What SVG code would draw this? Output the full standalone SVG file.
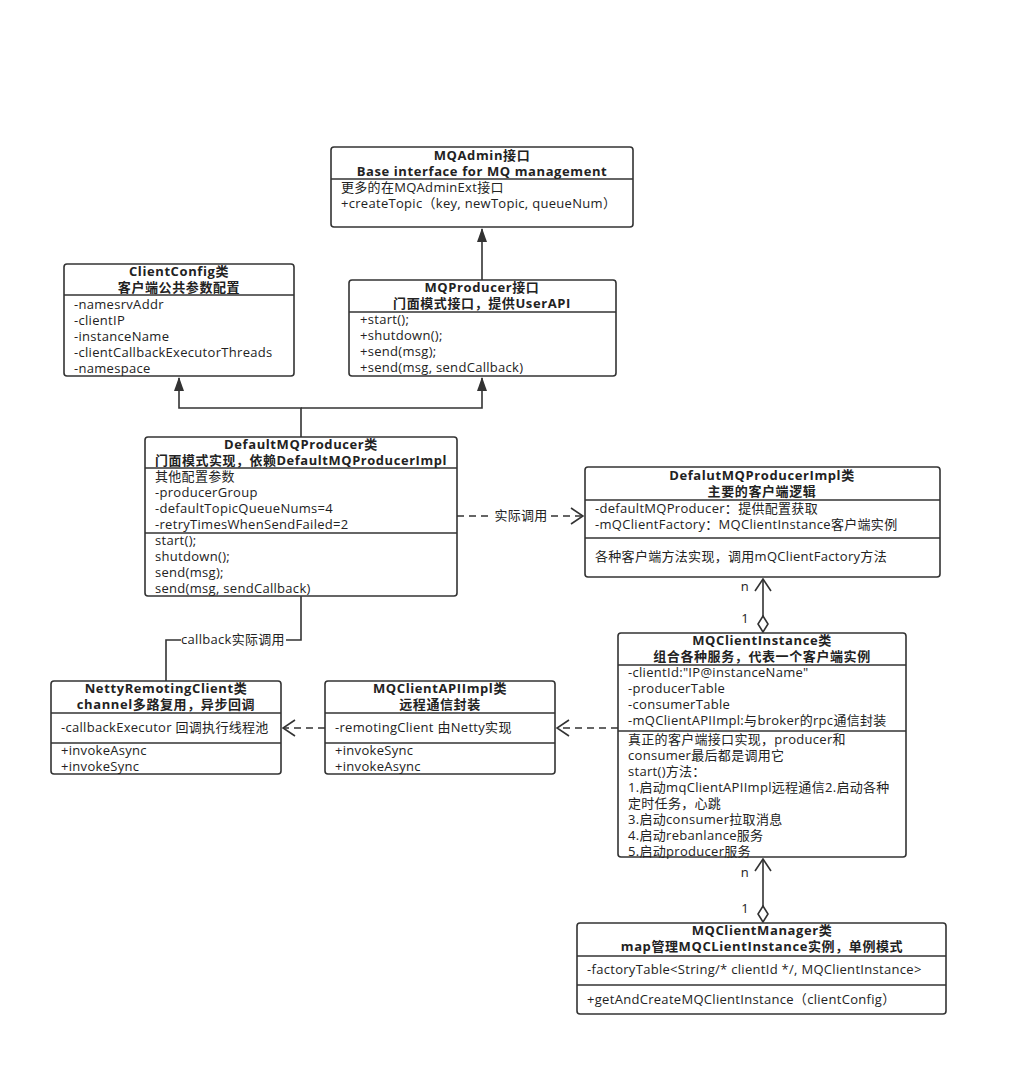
<svg xmlns="http://www.w3.org/2000/svg" width="1010" height="1077" viewBox="0 0 1010 1077">
<style>
.box{fill:#fff;stroke:#333;stroke-width:1.6}
.div{stroke:#333;stroke-width:1.6}
text{font-family:"Open Sans","Noto Sans CJK SC",sans-serif;font-size:13px;letter-spacing:0.3px;fill:#222}
.t{font-weight:bold;text-anchor:middle;letter-spacing:0.6px}
.ln{fill:none;stroke:#333;stroke-width:1.6}
.dash{fill:none;stroke:#333;stroke-width:1.6;stroke-dasharray:7,5}
.lbl{font-size:13px}
</style>
<defs>
<marker id="tri" markerWidth="14" markerHeight="10" refX="13" refY="5" orient="auto" markerUnits="userSpaceOnUse" viewBox="0 0 14 10">
<path d="M0,0 L14,5 L0,10 Z" fill="#333"/>
</marker>
<marker id="open" markerWidth="14" markerHeight="18" refX="13" refY="9" orient="auto" markerUnits="userSpaceOnUse" viewBox="0 0 14 18">
<path d="M1,1 L13,9 L1,17" fill="none" stroke="#333" stroke-width="1.6"/>
</marker>
<marker id="dia" markerWidth="18" markerHeight="12" refX="0" refY="5" orient="auto" markerUnits="userSpaceOnUse" viewBox="-1 -1 18 12">
<path d="M0,5 L8,0 L16,5 L8,10 Z" fill="#fff" stroke="#333" stroke-width="1.6"/>
</marker>
</defs>
<rect width="1010" height="1077" fill="#fff"/>

<g id="connectors">
<path class="ln" d="M482,280 V229" marker-end="url(#tri)"/>
<path class="ln" d="M301,437 V408 H179 V378" marker-end="url(#tri)"/>
<path class="ln" d="M301,408 H482 V378" marker-end="url(#tri)"/>
<path class="dash" d="M457,516 H490"/>
<path class="dash" d="M551,516 H583" marker-end="url(#open)"/>
<text class="lbl" x="521" y="520" text-anchor="middle">实际调用</text>
<path class="ln" d="M763,632 V579" marker-start="url(#dia)" marker-end="url(#open)"/>
<text class="lbl" x="745" y="591" text-anchor="middle">n</text>
<text class="lbl" x="745" y="623" text-anchor="middle">1</text>
<path class="ln" d="M763,922 V859" marker-start="url(#dia)" marker-end="url(#open)"/>
<text class="lbl" x="745" y="877" text-anchor="middle">n</text>
<text class="lbl" x="745" y="913" text-anchor="middle">1</text>
<path class="dash" d="M618,728 H557" marker-end="url(#open)"/>
<path class="dash" d="M325,728 H283" marker-end="url(#open)"/>
<path class="ln" d="M301,596 V640 H286"/>
<path class="ln" d="M181,640 H166 V681"/>
<text class="lbl" x="233" y="644" text-anchor="middle">callback实际调用</text>
</g>

<g id="MQAdmin">
<rect class="box" x="331" y="147" width="302" height="80" rx="3"/>
<line class="div" x1="331" y1="179" x2="633" y2="179"/>
<text class="t" x="482" y="160">MQAdmin接口</text>
<text class="t" x="482" y="176">Base interface for MQ management</text>
<text x="341" y="192">更多的在MQAdminExt接口</text>
<text x="341" y="208">+createTopic（key, newTopic, queueNum）</text>
</g>

<g id="ClientConfig">
<rect class="box" x="64" y="264" width="230" height="112" rx="3"/>
<line class="div" x1="64" y1="295" x2="294" y2="295"/>
<text class="t" x="179" y="276">ClientConfig类</text>
<text class="t" x="179" y="292">客户端公共参数配置</text>
<text x="74" y="309">-namesrvAddr</text>
<text x="74" y="325">-clientIP</text>
<text x="74" y="341">-instanceName</text>
<text x="74" y="357">-clientCallbackExecutorThreads</text>
<text x="74" y="373">-namespace</text>
</g>

<g id="MQProducer">
<rect class="box" x="349" y="280" width="267" height="96" rx="3"/>
<line class="div" x1="349" y1="312" x2="616" y2="312"/>
<text class="t" x="482" y="292">MQProducer接口</text>
<text class="t" x="482" y="308">门面模式接口，提供UserAPI</text>
<text x="360" y="324">+start();</text>
<text x="360" y="340">+shutdown();</text>
<text x="360" y="356">+send(msg);</text>
<text x="360" y="372">+send(msg, sendCallback)</text>
</g>

<g id="DefaultMQProducer">
<rect class="box" x="145" y="437" width="312" height="159" rx="3"/>
<line class="div" x1="145" y1="468" x2="457" y2="468"/>
<line class="div" x1="145" y1="533" x2="457" y2="533"/>
<text class="t" x="301" y="449">DefaultMQProducer类</text>
<text class="t" x="301" y="465" textLength="292" lengthAdjust="spacingAndGlyphs">门面模式实现，依赖DefaultMQProducerImpl</text>
<text x="155" y="481">其他配置参数</text>
<text x="155" y="497">-producerGroup</text>
<text x="155" y="513">-defaultTopicQueueNums=4</text>
<text x="155" y="529">-retryTimesWhenSendFailed=2</text>
<text x="155" y="545">start();</text>
<text x="155" y="561">shutdown();</text>
<text x="155" y="577">send(msg);</text>
<text x="155" y="593">send(msg, sendCallback)</text>
</g>

<g id="DefalutMQProducerImpl">
<rect class="box" x="585" y="467" width="355" height="110" rx="3"/>
<line class="div" x1="585" y1="500" x2="940" y2="500"/>
<line class="div" x1="585" y1="538" x2="940" y2="538"/>
<text class="t" x="762" y="480">DefalutMQProducerImpl类</text>
<text class="t" x="762" y="496">主要的客户端逻辑</text>
<text x="595" y="513">-defaultMQProducer：提供配置获取</text>
<text x="595" y="529">-mQClientFactory：MQClientInstance客户端实例</text>
<text x="595" y="561">各种客户端方法实现，调用mQClientFactory方法</text>
</g>

<g id="MQClientInstance">
<rect class="box" x="618" y="633" width="288" height="224" rx="3"/>
<line class="div" x1="618" y1="665" x2="906" y2="665"/>
<line class="div" x1="618" y1="731" x2="906" y2="731"/>
<text class="t" x="762" y="645">MQClientInstance类</text>
<text class="t" x="762" y="661">组合各种服务，代表一个客户端实例</text>
<text x="628" y="677">-clientId:"IP@instanceName"</text>
<text x="628" y="693">-producerTable</text>
<text x="628" y="709">-consumerTable</text>
<text x="628" y="725">-mQClientAPIImpl:与broker的rpc通信封装</text>
<text x="628" y="744">真正的客户端接口实现，producer和</text>
<text x="628" y="760">consumer最后都是调用它</text>
<text x="628" y="776">start()方法：</text>
<text x="628" y="792">1.启动mqClientAPIImpl远程通信2.启动各种</text>
<text x="628" y="808">定时任务，心跳</text>
<text x="628" y="824">3.启动consumer拉取消息</text>
<text x="628" y="840">4.启动rebanlance服务</text>
<text x="628" y="856">5.启动producer服务</text>
</g>

<g id="NettyRemotingClient">
<rect class="box" x="51" y="681" width="230" height="93" rx="3"/>
<line class="div" x1="51" y1="713" x2="281" y2="713"/>
<line class="div" x1="51" y1="743" x2="281" y2="743"/>
<text class="t" x="166" y="693">NettyRemotingClient类</text>
<text class="t" x="166" y="709">channel多路复用，异步回调</text>
<text x="61" y="732">-callbackExecutor 回调执行线程池</text>
<text x="61" y="755">+invokeAsync</text>
<text x="61" y="771">+invokeSync</text>
</g>

<g id="MQClientAPIImpl">
<rect class="box" x="325" y="681" width="230" height="93" rx="3"/>
<line class="div" x1="325" y1="713" x2="555" y2="713"/>
<line class="div" x1="325" y1="743" x2="555" y2="743"/>
<text class="t" x="440" y="693">MQClientAPIImpl类</text>
<text class="t" x="440" y="709">远程通信封装</text>
<text x="335" y="732">-remotingClient 由Netty实现</text>
<text x="335" y="755">+invokeSync</text>
<text x="335" y="771">+invokeAsync</text>
</g>

<g id="MQClientManager">
<rect class="box" x="577" y="923" width="369" height="91" rx="3"/>
<line class="div" x1="577" y1="956" x2="946" y2="956"/>
<line class="div" x1="577" y1="985" x2="946" y2="985"/>
<text class="t" x="762" y="935">MQClientManager类</text>
<text class="t" x="762" y="951">map管理MQCLientInstance实例，单例模式</text>
<text x="587" y="974">-factoryTable&lt;String/* clientId */, MQClientInstance&gt;</text>
<text x="587" y="1004">+getAndCreateMQClientInstance（clientConfig）</text>
</g>
</svg>
